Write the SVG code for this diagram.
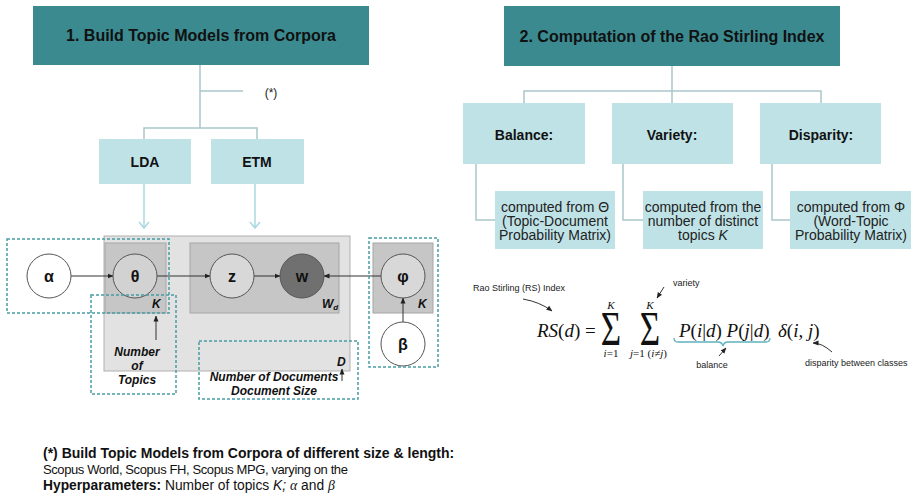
<svg xmlns="http://www.w3.org/2000/svg" width="914" height="498" viewBox="0 0 914 498">
<style>
.title{fill:#3b8a90}
.ttext{font-family:"Liberation Sans",Arial,sans-serif;font-weight:bold;font-size:16px;fill:#111;text-anchor:middle}
.lbox{fill:#bfe2e6}
.btext{font-family:"Liberation Sans",Arial,sans-serif;font-weight:bold;font-size:14px;fill:#111;text-anchor:middle}
.stext{font-family:"Liberation Sans",Arial,sans-serif;font-size:14px;fill:#222;text-anchor:middle}
.tree{fill:none;stroke:#a9c6ca;stroke-width:1.5}
.down{fill:none;stroke:#a8d8df;stroke-width:1.5}
.plate{fill:#e2e2e2;stroke:#b0b0b0;stroke-width:1}
.iplate{fill:#c6c6c6;stroke:#a6a6a6;stroke-width:1}
.node{stroke:#555;stroke-width:1}
.ntext{font-family:"Liberation Sans",Arial,sans-serif;font-weight:bold;font-size:16px;fill:#111;text-anchor:middle}
.bi{font-family:"Liberation Sans",Arial,sans-serif;font-weight:bold;font-style:italic;font-size:12px;fill:#111}
.dash{fill:none;stroke:#4a9ca5;stroke-width:1.5;stroke-dasharray:3 2}
.edge{fill:none;stroke:#333;stroke-width:1}
.math{font-family:"Liberation Serif","Times New Roman",serif;fill:#111}
.small{font-family:"Liberation Sans",Arial,sans-serif;font-size:9px;fill:#222}
.foot{font-family:"Liberation Sans",Arial,sans-serif;fill:#111}
</style>
<defs>
<marker id="ah" markerWidth="6" markerHeight="6" refX="5.5" refY="3" orient="auto" markerUnits="userSpaceOnUse">
<path d="M0,0.5 L6,3 L0,5.5 Z" fill="#222"/>
</marker>
<marker id="open" markerWidth="12" markerHeight="10" refX="6" refY="9" orient="0" markerUnits="userSpaceOnUse">
<path d="M1,3 L6,9 L11,3" fill="none" stroke="#a8d8df" stroke-width="1.5"/>
</marker>
</defs>

<g id="title1">
<rect class="title" x="33" y="6" width="336" height="59"/>
<text class="ttext" x="201" y="41">1. Build Topic Models from Corpora</text>
</g>
<g id="title2">
<rect class="title" x="504" y="6" width="336" height="60"/>
<text class="ttext" x="672" y="42">2. Computation of the Rao Stirling Index</text>
</g>

<g id="plate-D"><rect class="plate" x="104" y="236" width="246" height="135"/><text class="bi" x="337" y="366">D</text></g>
<g id="plate-theta"><rect class="iplate" x="105" y="243" width="61" height="70"/><text class="bi" x="152" y="308">K</text></g>
<g id="plate-Wd"><rect class="iplate" x="190" y="243" width="149" height="70"/><text class="bi" x="322" y="308">W<tspan font-size="8" dy="2">d</tspan></text></g>
<g id="plate-phi"><rect class="iplate" x="373" y="243" width="60" height="70"/><text class="bi" x="418" y="308">K</text></g>

<g id="connectors">
<path class="tree" d="M200,65 V128 M200,91 H243 M144,139 V128 H257 V139"/>
<path class="down" d="M144,184 V228" marker-end="url(#open)"/>
<path class="down" d="M255,184 V228" marker-end="url(#open)"/>
<path class="tree" d="M672,66 V91 M524,103 V91 H821 V103 M672,91 V103"/>
<path class="tree" d="M476,164 V220 H495 M623,164 V220 H643 M772,164 V220 H790"/>
<line class="edge" x1="71" y1="276" x2="113" y2="276" marker-end="url(#ah)"/>
<line class="edge" x1="157" y1="276" x2="210" y2="276" marker-end="url(#ah)"/>
<line class="edge" x1="254" y1="276" x2="280" y2="276" marker-end="url(#ah)"/>
<line class="edge" x1="381" y1="276" x2="324" y2="276" marker-end="url(#ah)"/>
<line class="edge" x1="403" y1="322" x2="403" y2="298" marker-end="url(#ah)"/>
<line class="edge" x1="156" y1="340" x2="156" y2="316" marker-end="url(#ah)"/>
<line class="edge" x1="342" y1="381" x2="342" y2="369" marker-end="url(#ah)"/>
</g>

<g id="text-star"><text x="271" y="97" font-family="Liberation Sans,Arial,sans-serif" font-size="12" fill="#222" text-anchor="middle">(*)</text></g>

<g id="lda"><rect class="lbox" x="99" y="139" width="92" height="45"/><text class="btext" x="145" y="167">LDA</text></g>
<g id="etm"><rect class="lbox" x="211" y="139" width="93" height="45"/><text class="btext" x="257" y="167">ETM</text></g>

<g id="node-alpha"><circle class="node" cx="49" cy="276" r="22" fill="#fff"/><text class="ntext" x="49" y="282">α</text></g>
<g id="node-theta"><circle class="node" cx="135" cy="276" r="22" fill="#d2d2d2"/><text class="ntext" x="135" y="282">θ</text></g>
<g id="node-z"><circle class="node" cx="232" cy="276" r="22" fill="#d8d8d8"/><text class="ntext" x="232" y="282">z</text></g>
<g id="node-w"><circle class="node" cx="302" cy="276" r="22" fill="#707070"/><text class="ntext" x="302" y="282">w</text></g>
<g id="node-phi"><circle class="node" cx="403" cy="276" r="22" fill="#d8d8d8"/><text class="ntext" x="403" y="282">φ</text></g>
<g id="node-beta"><circle class="node" cx="403" cy="344" r="22" fill="#fff"/><text class="ntext" x="403" y="350">β</text></g>

<g id="dashed-boxes">
<rect class="dash" x="7" y="239" width="162" height="74"/>
<rect class="dash" x="91" y="295" width="85" height="99"/>
<rect class="dash" x="199" y="341" width="159" height="58"/>
<rect class="dash" x="369" y="238" width="69" height="129"/>
</g>

<g id="label-topics">
<text class="bi" x="137" y="356" text-anchor="middle">Number</text>
<text class="bi" x="137" y="370" text-anchor="middle">of</text>
<text class="bi" x="137" y="384" text-anchor="middle">Topics</text>
</g>
<g id="label-docs">
<text class="bi" x="274" y="381" text-anchor="middle">Number of Documents</text>
<text class="bi" x="274" y="395" text-anchor="middle">Document Size</text>
</g>

<g id="balance"><rect class="lbox" x="463" y="103" width="122" height="61"/><text class="btext" x="524" y="140">Balance:</text></g>
<g id="variety"><rect class="lbox" x="612" y="103" width="121" height="61"/><text class="btext" x="672" y="140">Variety:</text></g>
<g id="disparity"><rect class="lbox" x="760" y="103" width="121" height="61"/><text class="btext" x="821" y="140">Disparity:</text></g>

<g id="balance-desc"><rect class="lbox" x="495" y="191" width="120" height="58"/>
<text class="stext" x="555" y="212">computed from Θ</text>
<text class="stext" x="555" y="226">(Topic-Document</text>
<text class="stext" x="555" y="240">Probability Matrix)</text></g>
<g id="variety-desc"><rect class="lbox" x="643" y="191" width="120" height="58"/>
<text class="stext" x="703" y="212">computed from the</text>
<text class="stext" x="703" y="226">number of distinct</text>
<text class="stext" x="703" y="240">topics <tspan font-style="italic">K</tspan></text></g>
<g id="disparity-desc"><rect class="lbox" x="790" y="191" width="121" height="58"/>
<text class="stext" x="851" y="212">computed from Φ</text>
<text class="stext" x="851" y="226">(Word-Topic</text>
<text class="stext" x="851" y="240">Probability Matrix)</text></g>

<g id="formula">
<text class="math" x="537" y="337" font-size="19"><tspan font-style="italic">RS</tspan>(<tspan font-style="italic">d</tspan>) =</text>
<text class="math" font-size="35" text-anchor="middle" transform="translate(611,345) scale(1,1.4)">Σ</text>
<text class="math" font-size="11" font-style="italic" x="611" y="309" text-anchor="middle">K</text>
<text class="math" font-size="11" x="611" y="357" text-anchor="middle"><tspan font-style="italic">i</tspan>=1</text>
<text class="math" font-size="35" text-anchor="middle" transform="translate(650,345) scale(1,1.4)">Σ</text>
<text class="math" font-size="11" font-style="italic" x="650" y="309" text-anchor="middle">K</text>
<text class="math" font-size="11" x="630" y="357"><tspan font-style="italic">j</tspan>=1 (<tspan font-style="italic">i</tspan>≠<tspan font-style="italic">j</tspan>)</text>
<text class="math" x="679" y="337" font-size="19"><tspan font-style="italic">P</tspan>(<tspan font-style="italic">i</tspan>|<tspan font-style="italic">d</tspan>) <tspan font-style="italic">P</tspan>(<tspan font-style="italic">j</tspan>|<tspan font-style="italic">d</tspan>)</text>
<text class="math" x="778" y="337" font-size="19"><tspan font-style="italic">δ</tspan>(<tspan font-style="italic">i</tspan>, <tspan font-style="italic">j</tspan>)</text>
<path d="M674,338 Q674,342 678,342 H718 Q722,342 723,346 Q724,342 728,342 H766 Q770,342 770,338" fill="none" stroke="#5fb3bd" stroke-width="1.3"/>
</g>

<g id="annotations">
<text class="small" x="473" y="291">Rao Stirling (RS) Index</text>
<path class="edge" d="M523,299 Q540,302 552,311" marker-end="url(#ah)"/>
<text class="small" x="673" y="286">variety</text>
<path class="edge" d="M664,287 L657,298" marker-end="url(#ah)"/>
<text class="small" x="712" y="368" text-anchor="middle">balance</text>
<path class="edge" d="M719,356 L726,348" marker-end="url(#ah)"/>
<text class="small" x="805" y="366">disparity between classes</text>
<path class="edge" d="M832,352 Q822,343 813,343" marker-end="url(#ah)"/>
</g>

<g id="footnote">
<text class="foot" x="43" y="458" font-weight="bold" font-size="14">(*) Build Topic Models from Corpora of different size &amp; length:</text>
<text class="foot" x="43" y="474" font-size="13" letter-spacing="-0.4">Scopus World, Scopus FH, Scopus MPG, varying on the</text>
<text class="foot" x="43" y="490" font-size="13.8"><tspan font-weight="bold">Hyperparameters:</tspan> Number of topics <tspan font-style="italic">K;</tspan> <tspan font-family="Liberation Serif,serif" font-style="italic">α</tspan> and <tspan font-family="Liberation Serif,serif" font-style="italic">β</tspan></text>
</g>
</svg>
